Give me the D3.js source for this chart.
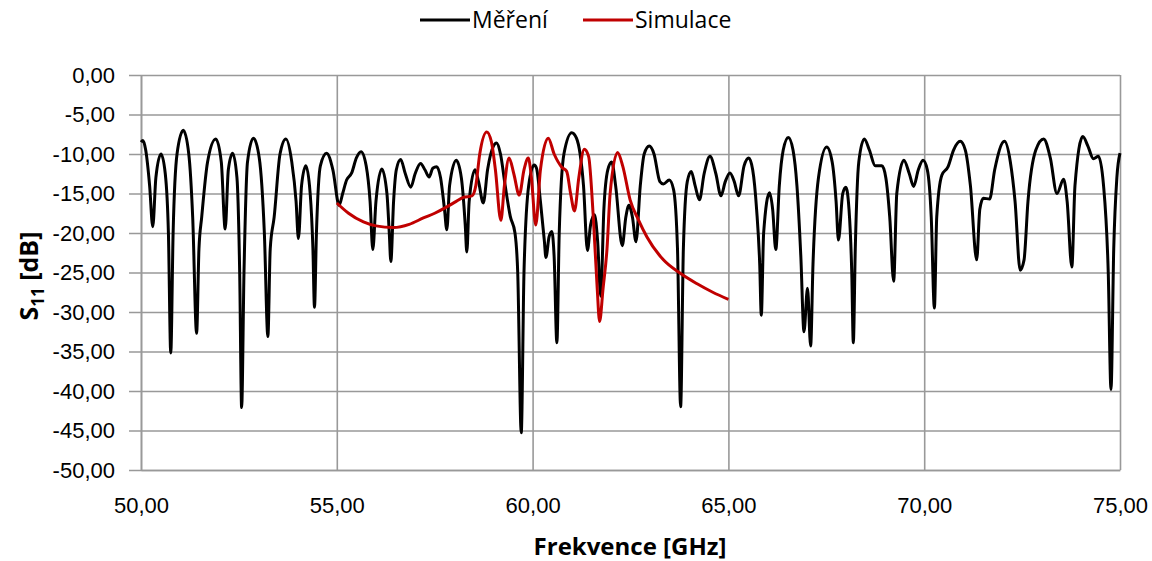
<!DOCTYPE html>
<html>
<head>
<meta charset="utf-8">
<script src="https://cdn.jsdelivr.net/npm/d3@7"></script>
<style>
  body { margin: 0; background: #fff; }
  svg { font-family: "Open Sans", "Noto Sans", sans-serif; }
</style>
</head>
<body>
<div id="chart"></div>
<script>
// measured S11 (black)
var mereniFreq = [50.00, 50.05, 50.12, 50.22, 50.30, 50.38, 50.51, 50.62, 50.70, 50.76, 50.82, 50.92, 51.08, 51.22, 51.32, 51.42, 51.48, 51.55, 51.70, 51.91,
  52.05, 52.15, 52.23, 52.34, 52.45, 52.52, 52.57, 52.63, 52.72, 52.87, 53.02, 53.15, 53.24, 53.30, 53.40, 53.55, 53.70, 53.85, 53.96, 54.02,
  54.10, 54.21, 54.32, 54.39, 54.43, 54.48, 54.58, 54.74, 54.90, 55.06, 55.15, 55.25, 55.38, 55.50, 55.62, 55.75, 55.85, 55.92, 56.00, 56.15,
  56.28, 56.34, 56.38, 56.45, 56.52, 56.63, 56.75, 56.89, 57.00, 57.14, 57.25, 57.36, 57.45, 57.55, 57.65, 57.75, 57.81, 57.88, 58.05, 58.18,
  58.28, 58.32, 58.38, 58.53, 58.62, 58.74, 58.85, 59.00, 59.08, 59.18, 59.30, 59.43, 59.55, 59.62, 59.71, 59.78, 59.90, 60.04, 60.10, 60.20,
  60.30, 60.34, 60.42, 60.49, 60.55, 60.62, 60.68, 60.80, 61.00, 61.12, 61.21, 61.30, 61.40, 61.48, 61.58, 61.66, 61.74, 61.82, 61.92, 62.02,
  62.12, 62.29, 62.38, 62.46, 62.55, 62.64, 62.75, 62.85, 62.98, 63.10, 63.25, 63.34, 63.49, 63.60, 63.70, 63.78, 63.85, 63.95, 64.05, 64.15,
  64.26, 64.38, 64.53, 64.68, 64.81, 64.92, 65.04, 65.15, 65.26, 65.40, 65.52, 65.62, 65.72, 65.80, 65.84, 65.90, 66.05, 66.13, 66.21, 66.30,
  66.40, 66.53, 66.65, 66.75, 66.85, 66.93, 67.02, 67.10, 67.16, 67.30, 67.51, 67.65, 67.75, 67.81, 67.92, 68.00, 68.08, 68.15, 68.19, 68.24,
  68.33, 68.47, 68.60, 68.75, 68.92, 69.02, 69.12, 69.22, 69.30, 69.48, 69.62, 69.73, 69.85, 69.97, 70.08, 70.18, 70.26, 70.32, 70.45, 70.61,
  70.75, 70.92, 71.05, 71.18, 71.34, 71.42, 71.51, 71.67, 71.80, 72.05, 72.20, 72.32, 72.45, 72.55, 72.65, 72.85, 73.05, 73.22, 73.39, 73.56,
  73.65, 73.77, 73.85, 74.05, 74.18, 74.32, 74.45, 74.58, 74.70, 74.77, 74.84, 74.92, 75.00];
var mereniS11 = [-8.5, -8.3, -9.5, -14, -19.2, -13, -10.0, -12.5, -20, -35.2, -20, -10, -7.0, -10, -18, -32.7, -22, -18, -11, -8.1,
  -11, -19.5, -12, -9.9, -13, -25, -42.1, -25, -11, -8.0, -10.5, -20, -33.1, -22, -18, -10, -8.1, -11, -16, -20.7,
  -14, -11.5, -15, -22, -29.4, -20, -11.5, -9.9, -12, -16.5, -15, -13.3, -12.4, -10.5, -9.7, -11.5, -16, -22.1, -16, -11.9,
  -15, -20, -23.6, -16, -12, -10.7, -12.5, -14.2, -12.5, -11.2, -12, -12.9, -11.8, -11.6, -13, -17, -19.6, -14, -10.8, -13,
  -19, -22.4, -16, -12.0, -13.5, -16.2, -12, -9.0, -8.6, -10, -14, -17.9, -20, -25, -45.3, -25, -14, -11.4, -11.8, -16,
  -21, -23.1, -20.5, -19.8, -23, -33.9, -20, -10, -7.3, -8, -9.9, -14, -22.2, -19, -17.7, -21, -28.0, -17, -12, -11.0,
  -14, -21.6, -18, -16.5, -18, -21.1, -14, -10, -9.0, -10, -13.5, -13.8, -13.3, -14.5, -22, -42.0, -22, -13.5, -12.2, -14,
  -15.8, -12.5, -10.3, -12.5, -15.3, -13.5, -12.4, -13.5, -15.3, -11.5, -10.5, -12, -17, -24, -30.4, -20, -14.9, -17, -22.1, -14,
  -9.5, -7.9, -9.5, -14, -23, -32.5, -27.0, -34.3, -24, -13, -9.1, -11, -16, -20.9, -15, -14.2, -17, -25, -33.9, -22,
  -11, -8.1, -9.5, -11.5, -11.5, -13, -18, -26.1, -15, -10.8, -12.5, -14.1, -12, -10.8, -12, -18, -29.5, -18, -12.7, -11.6,
  -9.5, -8.4, -9.5, -14, -23.4, -17, -15.6, -15.7, -12, -8.4, -11, -16, -24.7, -23.4, -16, -9.5, -8.1, -10.5, -15.0, -13.2,
  -16, -24.3, -14, -7.8, -9, -10.6, -10.3, -14, -25, -39.8, -22, -13, -9.9];

// simulated S11 (red)
var simFreq = [55.00, 55.30, 55.68, 56.00, 56.45, 56.85, 57.21, 57.50, 57.81, 58.05, 58.23, 58.45, 58.55, 58.65, 58.83, 58.95, 59.05, 59.19, 59.28, 59.40,
  59.52, 59.66, 59.78, 59.89, 59.97, 60.08, 60.20, 60.40, 60.55, 60.75, 60.87, 60.97, 61.07, 61.18, 61.32, 61.43, 61.55, 61.65, 61.71, 61.80,
  61.90, 61.98, 62.17, 62.30, 62.49, 62.70, 62.92, 63.34, 63.77, 64.19, 64.60, 65.00];
var simS11 = [-16.2, -17.5, -18.6, -19.1, -19.3, -18.9, -18.1, -17.5, -16.7, -16.0, -15.5, -15.3, -14, -10, -7.2, -8.5, -12, -18.4, -14, -10.5,
  -12.5, -15.2, -12, -10.5, -13, -19.0, -12, -8.0, -10, -11.7, -12.2, -15, -17.2, -13, -9.4, -10.3, -18, -27, -31.2, -27,
  -22, -15, -9.8, -11.5, -15.8, -18.3, -20.5, -23.4, -25.1, -26.4, -27.5, -28.4];

var xTicks = [50, 55, 60, 65, 70, 75];
var yTicks = [0, -5, -10, -15, -20, -25, -30, -35, -40, -45, -50];
var seriesNames = ["Měření", "Simulace"];
var seriesColors = ["#000000", "#c00000"];

var W = 1152, H = 561;
var margin = {top: 75, right: 32, bottom: 91, left: 141};
var width = W - margin.left - margin.right, height = H - margin.top - margin.bottom;

// czech decimal comma, plain hyphen as minus
var fmt = function (d) { return d.toFixed(2).replace(".", ","); };

var svg = d3.select("#chart").append("svg")
    .attr("width", W).attr("height", H);
var g = svg.append("g")
    .attr("transform", "translate(" + margin.left + "," + margin.top + ")");

var x = d3.scaleLinear().domain([50, 75]).range([0, width]);
var y = d3.scaleLinear().domain([-50, 0]).range([height, 0]);

// y axis + horizontal grid
var yAx = g.append("g")
    .call(d3.axisLeft(y).tickValues(yTicks).tickFormat(fmt).tickSizeInner(-width).tickSizeOuter(0).tickPadding(26));
yAx.selectAll("line").attr("x1", -12).attr("stroke", "#999").attr("stroke-width", 1.6);
yAx.select(".domain").attr("stroke", "#999").attr("stroke-width", 1.6);
yAx.selectAll("text").style("font-size", "22px").attr("fill", "#000");

// x axis + vertical grid
var xAx = g.append("g")
    .attr("transform", "translate(0," + height + ")")
    .call(d3.axisBottom(x).tickValues(xTicks).tickFormat(fmt).tickSizeInner(-height).tickSizeOuter(0).tickPadding(27));
xAx.selectAll("line").attr("stroke", "#999").attr("stroke-width", 1.6);
xAx.select(".domain").attr("stroke", "#999").attr("stroke-width", 1.6);
xAx.selectAll("text").style("font-size", "22px").attr("fill", "#000");

var line = d3.line()
    .x(function (d) { return x(d[0]); })
    .y(function (d) { return y(d[1]); })
    .curve(d3.curveMonotoneX);

var mereni = d3.zip(mereniFreq, mereniS11);
var sim = d3.zip(simFreq, simS11);

g.append("path").datum(mereni)
    .attr("d", line).attr("fill", "none")
    .attr("stroke", seriesColors[0]).attr("stroke-width", 3).attr("stroke-linejoin", "round");
g.append("path").datum(sim)
    .attr("d", line).attr("fill", "none")
    .attr("stroke", seriesColors[1]).attr("stroke-width", 3).attr("stroke-linejoin", "round");

// axis titles
svg.append("text")
    .attr("x", 630).attr("y", 555)
    .attr("text-anchor", "middle")
    .style("font-size", "24px").style("font-weight", "bold")
    .text("Frekvence [GHz]");

var yt = svg.append("text")
    .attr("transform", "translate(38,276) rotate(-90)")
    .attr("text-anchor", "middle")
    .style("font-size", "25px").style("font-weight", "bold");
yt.append("tspan").text("S");
yt.append("tspan").attr("dy", 6).style("font-size", "17px").text("11");
yt.append("tspan").attr("dy", -6).text(" [dB]");

// legend
var legendX = [420, 583];
var legend = svg.selectAll(".legend")
    .data(seriesNames).enter().append("g")
    .attr("transform", function (d, i) { return "translate(" + legendX[i] + ",20)"; });
legend.append("line")
    .attr("x1", 0).attr("x2", 50)
    .attr("stroke", function (d, i) { return seriesColors[i]; })
    .attr("stroke-width", 3);
legend.append("text")
    .attr("x", 52).attr("y", 8)
    .style("font-size", "23px")
    .text(function (d) { return d; });
</script>
</body>
</html>
